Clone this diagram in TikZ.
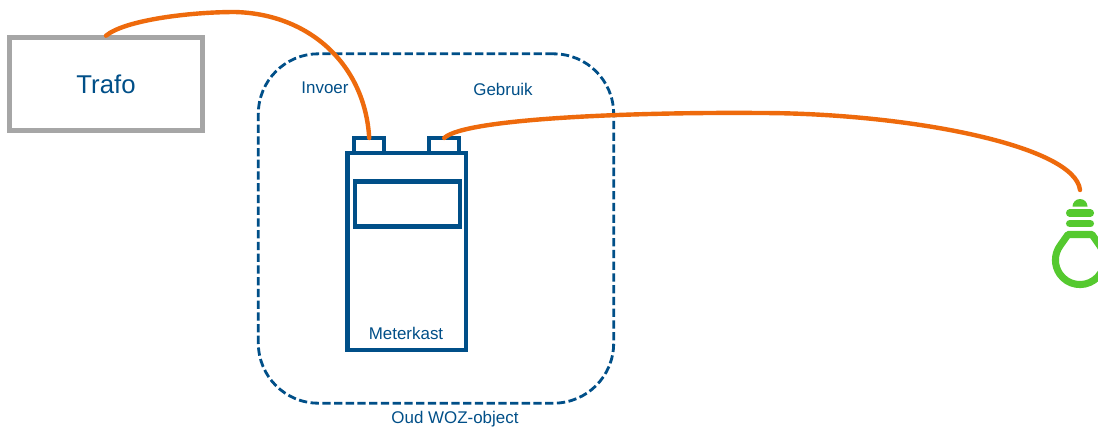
\documentclass[tikz,border=0pt]{standalone}
\usepackage{fontspec}
\setmainfont{Liberation Sans}
\definecolor{woz}{HTML}{004F88}
\definecolor{wire}{HTML}{EE6A0C}
\definecolor{bulb}{HTML}{55C92F}
\definecolor{trafo}{HTML}{A6A6A6}
\tikzset{
  x=0.75pt,y=-0.75pt,
  outer sep=0pt,
  label text/.style={text=woz,font=\fontsize{12.7}{14}\selectfont,inner sep=0pt},
  box/.style={draw=woz,line width=3.1pt,fill=white,inner sep=0pt},
  wirestyle/.style={draw=wire,line width=3.3pt,line cap=round},
  bulbline/.style={draw=bulb,line cap=round}
}
\begin{document}
\begin{tikzpicture}
\useasboundingbox (0,0) rectangle (1098,429);
\fill[white] (0,0) rectangle (1098,429);
% Trafo
\node[draw=trafo,line width=3.4pt,minimum width=145pt,minimum height=69.5pt,inner sep=0pt,text=woz,font=\fontsize{19.3}{22}\selectfont] (trafo) at (106,84) {Trafo};
% Outer dashed
\node[draw=woz,line width=2.1pt,dash pattern=on 6.2pt off 2.6pt,rounded corners=45pt,minimum width=266.5pt,minimum height=262pt,inner sep=0pt] (woz) at (436,228.5) {};
% Meter
\node[box,minimum width=22.8pt,minimum height=11.25pt,anchor=south west] (inlet) at (354,153) {};
\node[box,minimum width=22.8pt,minimum height=11.25pt,anchor=south west] (outlet) at (429,153) {};
\node[box,minimum width=89pt,minimum height=147.5pt,anchor=north west] (meter) at (347.5,153) {};
\node[box,minimum width=78.5pt,minimum height=33.75pt,anchor=north west] (display) at (355,181.5) {};
% Bulb
\coordinate (bulbtop) at (1080,190);
\fill[bulb] (1072.5,206.5) arc[start angle=180,end angle=360,radius=7.5] -- cycle;
\draw[bulbline,line width=5.6pt] (1069.7,213) -- (1090.3,213);
\draw[bulbline,line width=5.6pt] (1069.7,223.7) -- (1090.3,223.7);
\draw[draw=bulb,line width=5.3pt,line join=round] (1068,234.5) -- (1092,234.5) -- (1100,246) arc[start angle=-35,end angle=215,radius=24.5] -- cycle;
% Wires
\draw[wirestyle] (trafo.north) ++(0,-2) .. controls (125,20) and (190,12) .. (235,12) .. controls (310,14) and (365,65) .. (inlet.north);
\draw[wirestyle] (outlet.north) .. controls (465,118) and (640,112) .. (760,113) .. controls (905,113) and (1075,145) .. (bulbtop);
% Labels
\node[label text] (invoer) at (325,88) {Invoer};
\node[label text] (gebruik) at (503,89) {Gebruik};
\node[label text] (kast) at (406,333) {Meterkast};
\node[label text] (oud) at (455,419) {Oud WOZ-object};
\end{tikzpicture}
\end{document}
